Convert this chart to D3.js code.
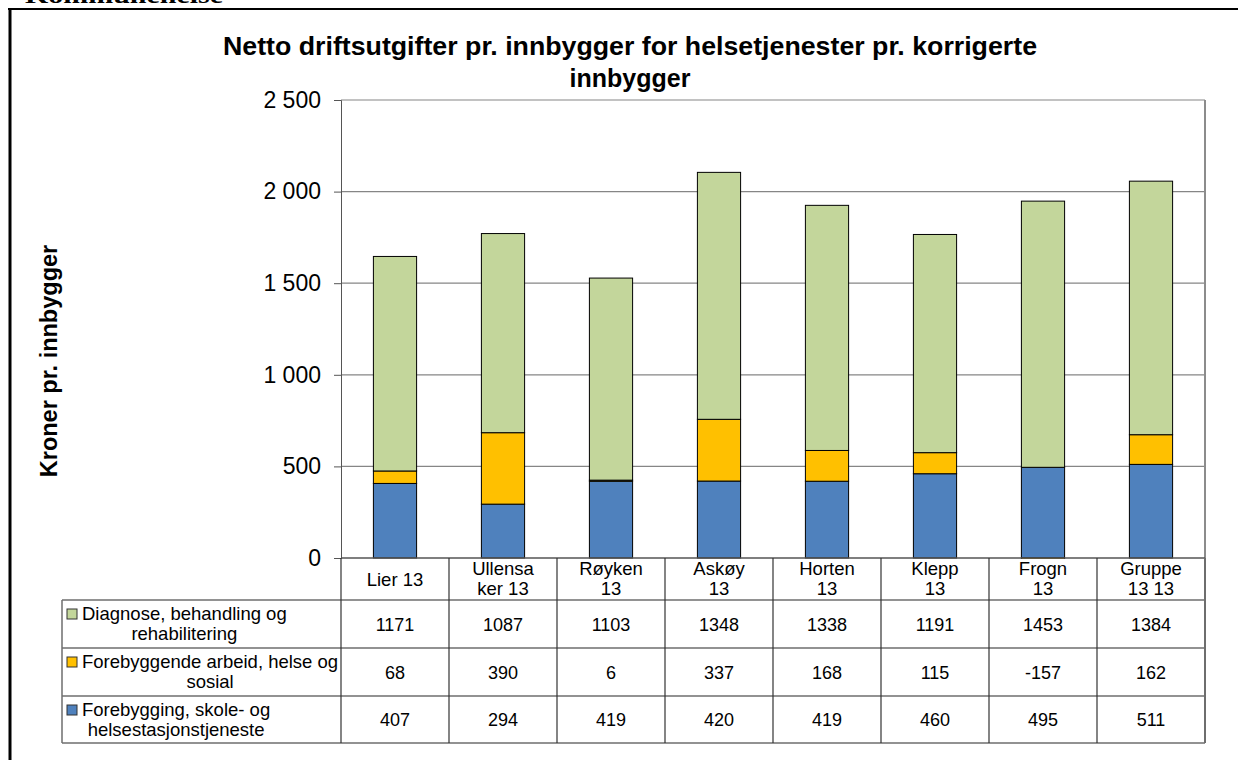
<!DOCTYPE html>
<html>
<head>
<meta charset="utf-8">
<script src="https://cdn.jsdelivr.net/npm/d3@7"></script>
<style>
  body { margin: 0; background: #fff; }
  text { font-family: "Liberation Sans", Arial, sans-serif; fill: #000; }
</style>
</head>
<body>
<div id="chart"></div>
<script>
// data
const categories = ["Lier 13", "Ullensa\nker 13", "Røyken\n13", "Askøy\n13", "Horten\n13", "Klepp\n13", "Frogn\n13", "Gruppe\n13 13"];
const diagnose = [1171, 1087, 1103, 1348, 1338, 1191, 1453, 1384];
const forebyggende = [68, 390, 6, 337, 168, 115, -157, 162];
const skole = [407, 294, 419, 420, 419, 460, 495, 511];
const seriesLabels = ["Diagnose, behandling og\nrehabilitering", "Forebyggende arbeid, helse og\nsosial", "Forebygging, skole- og\nhelsestasjonstjeneste"];
const seriesColors = ["#C3D69B", "#FFC000", "#4F81BD"];
const yTicks = [0, 500, 1000, 1500, 2000, 2500];

const width = 1238;
const height = 760;
const plot = { left: 341, right: 1205, top: 100, bottom: 558 };

const svg = d3.select('#chart')
  .append('svg')
  .attr('width', width)
  .attr('height', height);

// page frame + cut heading
svg.append('text')
  .attr('x', 25).attr('y', 3)
  .attr('textLength', 198).attr('lengthAdjust', 'spacingAndGlyphs')
  .style('font-family', '"Liberation Serif", "Times New Roman", serif')
  .style('font-weight', 'bold').style('font-size', '24px')
  .text('Kommunehelse');
svg.append('line').attr('x1', 8).attr('x2', width).attr('y1', 9).attr('y2', 9)
  .attr('stroke', '#000').attr('stroke-width', 2);
svg.append('line').attr('x1', 10).attr('x2', 10).attr('y1', 8).attr('y2', height)
  .attr('stroke', '#000').attr('stroke-width', 3);

// title
const title = svg.append('text')
  .attr('text-anchor', 'middle')
  .style('font-weight', 'bold').style('font-size', '25px');
title.append('tspan').attr('x', 630).attr('y', 55)
  .attr('textLength', 814).attr('lengthAdjust', 'spacingAndGlyphs')
  .text('Netto driftsutgifter pr. innbygger for helsetjenester pr. korrigerte');
title.append('tspan').attr('x', 630).attr('y', 87).text('innbygger');

// scales
const x = d3.scaleBand().domain(categories).range([plot.left, plot.right])
  .paddingInner(0.6).paddingOuter(0.3);
const xCol = d3.scaleBand().domain(categories).range([plot.left, plot.right]);
const y = d3.scaleLinear().domain([0, 2500]).range([plot.bottom, plot.top]);

const nb = d3.formatLocale({ decimal: ',', thousands: ' ', grouping: [3], currency: ['', ''] });
const fmt = nb.format(',');

// gridlines
svg.append('g').selectAll('line').data(yTicks.filter(d => d > 0)).join('line')
  .attr('x1', plot.left).attr('x2', plot.right)
  .attr('y1', d => y(d)).attr('y2', d => y(d))
  .attr('stroke', '#868686').attr('stroke-width', 1.2);
svg.append('line').attr('x1', plot.right).attr('x2', plot.right)
  .attr('y1', plot.top).attr('y2', plot.bottom)
  .attr('stroke', '#8c8c8c').attr('stroke-width', 2);

// y axis
const yAxis = svg.append('g')
  .attr('transform', `translate(${plot.left},0)`)
  .call(d3.axisLeft(y).tickValues(yTicks).tickFormat(fmt).tickSize(7).tickPadding(13));
yAxis.select('.domain').attr('stroke', '#555');
yAxis.selectAll('.tick line').attr('stroke', '#555');
yAxis.selectAll('.tick text')
  .style('font-size', '23px').style('font-family', '"Liberation Sans", Arial, sans-serif');

svg.append('text')
  .attr('transform', 'translate(57,361) rotate(-90)')
  .attr('text-anchor', 'middle')
  .style('font-weight', 'bold').style('font-size', '23.5px')
  .text('Kroner pr. innbygger');

// stacked bars
const rows = categories.map((c, i) => ({ cat: c, skole: skole[i], forebyggende: forebyggende[i], diagnose: diagnose[i] }));
const keys = ['skole', 'forebyggende', 'diagnose'];
const colorOf = { skole: seriesColors[2], forebyggende: seriesColors[1], diagnose: seriesColors[0] };
const stacked = d3.stack().keys(keys).offset(d3.stackOffsetDiverging)(rows);

svg.append('clipPath').attr('id', 'plotClip')
  .append('rect').attr('x', plot.left).attr('y', plot.top - 2)
  .attr('width', plot.right - plot.left).attr('height', plot.bottom - plot.top + 3);

svg.append('g').attr('clip-path', 'url(#plotClip)')
  .selectAll('g').data(stacked).join('g')
  .attr('fill', d => colorOf[d.key])
  .selectAll('rect').data(d => d).join('rect')
  .attr('x', d => x(d.data.cat))
  .attr('width', x.bandwidth())
  .attr('y', d => y(Math.max(d[0], d[1])))
  .attr('height', d => Math.abs(y(d[0]) - y(d[1])))
  .attr('stroke', '#000').attr('stroke-width', 1);

// data table
const tableLeft = 62;
const headerTop = plot.bottom;
const rowTops = [600, 648, 696, 743];
const lineColor = '#6e6e6e';
const table = svg.append('g');

// horizontal lines
table.append('line').attr('x1', plot.left).attr('x2', plot.right)
  .attr('y1', headerTop).attr('y2', headerTop).attr('stroke', '#555').attr('stroke-width', 1.5);
table.selectAll('line.h').data(rowTops).join('line').attr('class', 'h')
  .attr('x1', tableLeft).attr('x2', plot.right)
  .attr('y1', d => d).attr('y2', d => d)
  .attr('stroke', lineColor).attr('stroke-width', 1.5);
// vertical lines
table.selectAll('line.v').data(categories).join('line').attr('class', 'v')
  .attr('x1', d => xCol(d)).attr('x2', d => xCol(d))
  .attr('y1', headerTop).attr('y2', rowTops[3])
  .attr('stroke', '#333').attr('stroke-width', 1.2);
table.append('line').attr('x1', plot.right).attr('x2', plot.right)
  .attr('y1', headerTop).attr('y2', rowTops[3]).attr('stroke', lineColor).attr('stroke-width', 2);
table.append('line').attr('x1', tableLeft).attr('x2', tableLeft)
  .attr('y1', rowTops[0]).attr('y2', rowTops[3]).attr('stroke', lineColor).attr('stroke-width', 1.5);

// header labels
table.selectAll('text.cat').data(categories).join('text').attr('class', 'cat')
  .attr('text-anchor', 'middle').style('font-size', '18.5px')
  .each(function (d) {
    const lines = d.split('\n');
    const t = d3.select(this);
    const cx = xCol(d) + xCol.bandwidth() / 2;
    lines.forEach((l, i) => {
      t.append('tspan').attr('x', cx)
        .attr('y', lines.length === 1 ? headerTop + 28 : headerTop + 17 + i * 20)
        .text(l);
    });
  });

// series rows
const tableSeries = [diagnose, forebyggende, skole];
tableSeries.forEach((vals, r) => {
  const top = rowTops[r];
  const mid = (rowTops[r] + rowTops[r + 1]) / 2;
  table.append('g').selectAll('text').data(vals).join('text')
    .attr('x', (d, i) => xCol(categories[i]) + xCol.bandwidth() / 2)
    .attr('y', mid + 6.5)
    .attr('text-anchor', 'middle').style('font-size', '18px')
    .text(d => d);

  table.append('rect')
    .attr('x', 67).attr('y', top + 9).attr('width', 10).attr('height', 10)
    .attr('fill', seriesColors[r]).attr('stroke', '#333').attr('stroke-width', 1);

  const lines = seriesLabels[r].split('\n');
  const lab = table.append('text').attr('text-anchor', 'middle').style('font-size', '18.5px');
  const spans = lines.map((l, i) => lab.append('tspan').attr('y', top + 20 + i * 20).text(l));
  const maxW = d3.max(spans, s => s.node().getComputedTextLength());
  spans.forEach(s => s.attr('x', 82 + maxW / 2));
});
</script>
</body>
</html>
